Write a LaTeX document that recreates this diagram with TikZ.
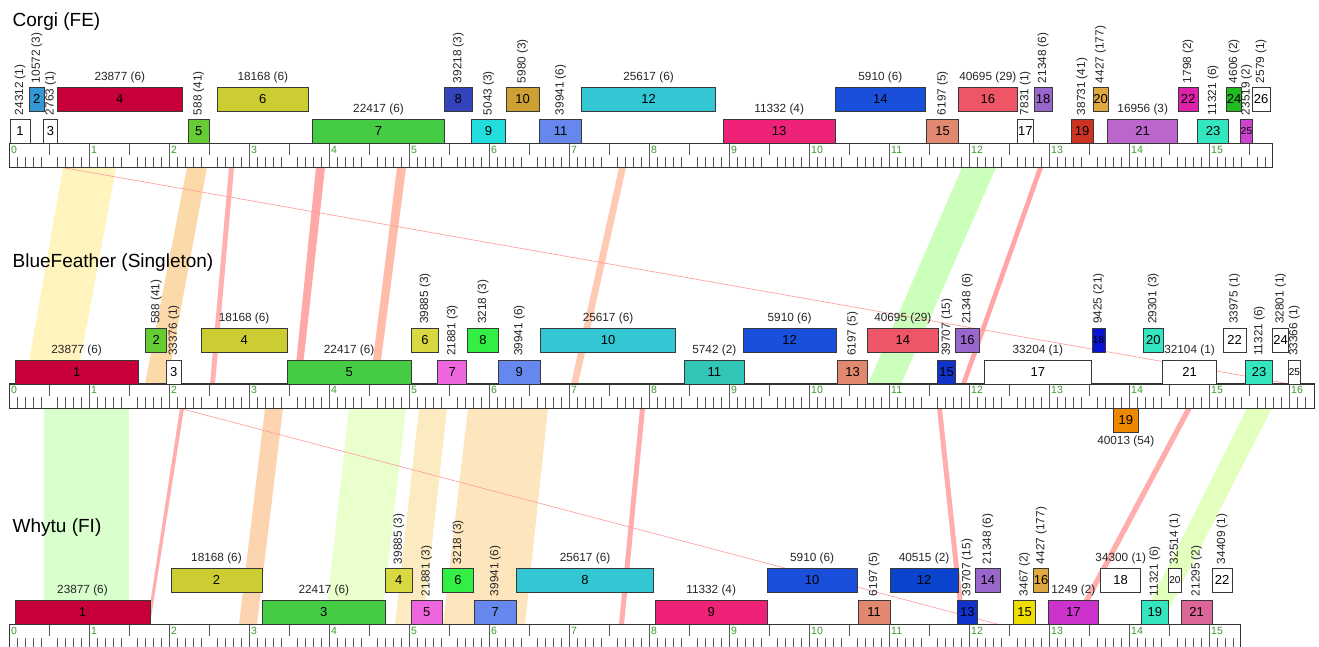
\documentclass[tikz,border=0pt]{standalone}
\usepackage{fontspec}
\setmainfont{Liberation Sans}
\definecolor{cCrim}{HTML}{C8003A}
\definecolor{cSky}{HTML}{3399D4}
\definecolor{cLime}{HTML}{66CC33}
\definecolor{cOlive}{HTML}{CCCC33}
\definecolor{cGreen}{HTML}{44CC44}
\definecolor{cNavy}{HTML}{3344BB}
\definecolor{cCyan}{HTML}{22DDDD}
\definecolor{cOchre}{HTML}{CCA033}
\definecolor{cPeri}{HTML}{6688EE}
\definecolor{cTeal}{HTML}{33C6D3}
\definecolor{cPink}{HTML}{EE2277}
\definecolor{cBlue}{HTML}{1A4FDB}
\definecolor{cSalmon}{HTML}{E08870}
\definecolor{cCoral}{HTML}{EE5566}
\definecolor{cPurple}{HTML}{9966CC}
\definecolor{cRed}{HTML}{CC3322}
\definecolor{cGold}{HTML}{E0A840}
\definecolor{cOrchid}{HTML}{BB66CC}
\definecolor{cMag}{HTML}{DD22AA}
\definecolor{cAqua}{HTML}{33E6BF}
\definecolor{cGreenB}{HTML}{22BB22}
\definecolor{cMagP}{HTML}{CC44CC}
\definecolor{cOlY}{HTML}{D8D840}
\definecolor{cPinkB}{HTML}{EE66DD}
\definecolor{cBGreen}{HTML}{33EE44}
\definecolor{cTealG}{HTML}{33C4B8}
\definecolor{cDBlue}{HTML}{1133CC}
\definecolor{cDeep}{HTML}{0A14D0}
\definecolor{cOrange}{HTML}{EE8800}
\definecolor{cBlueC}{HTML}{0A44CC}
\definecolor{cYellow}{HTML}{EEDD00}
\definecolor{cMagB}{HTML}{CC33CC}
\definecolor{cRose}{HTML}{DD6699}
\definecolor{tickgreen}{HTML}{3C9A2E}
\definecolor{bYel}{HTML}{FFF4BE}
\definecolor{bOra}{HTML}{FCD9A8}
\definecolor{bRedA}{HTML}{FFB2B2}
\definecolor{bRedB}{HTML}{FFA8A8}
\definecolor{bSal}{HTML}{FFBCA8}
\definecolor{bPea}{HTML}{FFCAB4}
\definecolor{bGrn}{HTML}{CCFFBB}
\definecolor{bRedC}{HTML}{FFA6A6}
\definecolor{bGrnA}{HTML}{D9FFCC}
\definecolor{bRedD}{HTML}{FFADAD}
\definecolor{bOraB}{HTML}{FCD4B0}
\definecolor{bYG}{HTML}{E9FFCC}
\definecolor{bYelB}{HTML}{FCEBC0}
\definecolor{bOraC}{HTML}{FDE6BE}
\definecolor{bGrnB}{HTML}{E2FFBE}
\definecolor{hair}{HTML}{FF9999}

\newcommand\gbox[6]{%
  \pgfmathsetmacro\gcx{(#2+#3)/2}%
  \pgfmathsetmacro\gw{#3-#2}%
  \node[gene, fill=#5, minimum width=\gw pt] (#1) at (\gcx,#4+12) {#6};}
\newcommand\hl[2]{\node[lab, anchor=base] (#1l) at ([yshift=7pt]#1.north) {#2};}
\newcommand\rl[2]{\node[lab, anchor=west, rotate=90] (#1l) at ([yshift=4pt]#1.north) {#2};}
\newcommand\band[7]{\fill[#1] (#2,#6) -- (#3,#6) -- (#4,#7) -- (#5,#7) -- cycle;}
\newcommand\ruler[5]{%
  \pgfmathsetmacro\rw{#2-9.7}%
  \node[rulerbox, minimum width=\rw pt, anchor=north west] (#1) at (9.7,#3) {};
  \foreach \i in {1,...,#4}{%
    \pgfmathtruncatemacro\rmod{mod(\i,10)}%
    \pgfmathsetmacro\tx{9.7+8*\i}%
    \ifnum\rmod=0 \draw[tick] (\tx,#3) -- (\tx,#3+24.3);%
    \else\ifnum\rmod=5 \draw[tick] (\tx,#3) -- (\tx,#3+12);%
    \else \draw[tick] (\tx,#3+24.3) -- (\tx,#3+13.3);\fi\fi}
  \foreach \k in {0,...,#5}{\node[tlab] at (9.7+80*\k+1.3,#3+2.3) {\k};}
  \draw[rulerline] (9.7,#3) rectangle (#2,#3+24.3);
}

\begin{document}
\begin{tikzpicture}[x=1pt,y=-1pt,
  gene/.style={draw=black!78, line width=0.8pt, inner sep=0pt, outer sep=0pt,
    minimum height=24pt, font=\fontsize{13}{13}\selectfont, text=black},
  lab/.style={inner sep=0pt, font=\fontsize{11.8}{12}\selectfont, text=black!85},
  ttl/.style={font=\fontsize{19}{20}\selectfont, anchor=base west, inner sep=0pt},
  rulerbox/.style={fill=white, minimum height=24.3pt, inner sep=0pt, outer sep=0pt},
  rulerline/.style={draw=black!80, line width=1.3pt},
  tick/.style={draw=black!65, line width=0.7pt},
  tlab/.style={anchor=north west, inner sep=0pt, text=tickgreen, font=\fontsize{10.5}{10.5}\selectfont},
  hairline/.style={draw=hair, line width=0.6pt}]
\useasboundingbox (0,0) rectangle (1319,647);
\fill[white] (0,0) rectangle (1319,647);

% ---- bands Corgi -> BlueFeather
\band{bYel}{63}{116}{76}{25}{167.6}{384}
\band{bOra}{187}{207}{167}{145}{167.6}{384}
\band{bRedA}{229}{234}{215}{210}{167.6}{384}
\band{bRedB}{316}{325}{301}{294}{167.6}{384}
\band{bSal}{397}{406}{378}{370}{167.6}{384}
\band{bPea}{619}{626}{578}{571}{167.6}{384}
\band{bGrn}{962}{996}{901}{868}{167.6}{384}
\band{bRedC}{1038}{1043}{966}{961}{167.6}{384}
\coordinate (d1a) at (63,167.6);
\coordinate (d1b) at (1290,384);
\draw[hairline] (d1a) -- (d1b);

% ---- bands BlueFeather -> Whytu
\band{bGrnA}{44}{129}{129}{44}{408.3}{624.3}
\band{bRedD}{180}{184}{150}{147}{408.3}{624.3}
\band{bOraB}{265}{283}{257}{239}{408.3}{624.3}
\band{bYG}{349}{406}{381}{325}{408.3}{624.3}
\band{bYelB}{419}{447}{423}{395}{408.3}{624.3}
\band{bOraC}{468}{548}{525}{443}{408.3}{624.3}
\band{bRedD}{640}{645}{624}{619}{408.3}{624.3}
\band{bRedD}{937}{942}{965}{960}{408.3}{624.3}
\band{bRedD}{1186}{1192}{1077}{1071}{408.3}{624.3}
\band{bGrnB}{1247}{1272}{1161}{1139}{408.3}{624.3}
\coordinate (d2a) at (180,408.3);
\coordinate (d2b) at (998,624.3);
\draw[hairline] (d2a) -- (d2b);

% ---- rulers
\ruler{r1}{1272.7}{143.3}{157}{15}
\ruler{r2}{1314.3}{384}{162}{16}
\ruler{r3}{1240.7}{624.3}{153}{15}

% ---- titles
\node[ttl] (t1) at (12.5,26.5) {Corgi (FE)};
\node[ttl] (t2) at (12.5,267.5) {BlueFeather (Singleton)};
\node[ttl] (t3) at (12.5,532.5) {Whytu (FI)};

% ---- Corgi
\def\U{87.3}\def\L{119.3}
\gbox{c1}{10}{30}{\L}{white}{1}\rl{c1}{24312 (1)}
\gbox{c2}{29.3}{44.3}{\U}{cSky}{2}\rl{c2}{10572 (3)}
\gbox{c3}{43.7}{57.3}{\L}{white}{3}\rl{c3}{2763 (1)}
\gbox{c4}{57.3}{182.3}{\U}{cCrim}{4}\hl{c4}{23877 (6)}
\gbox{c5}{188.3}{209}{\L}{cLime}{5}\rl{c5}{588 (41)}
\gbox{c6}{217.3}{308.3}{\U}{cOlive}{6}\hl{c6}{18168 (6)}
\gbox{c7}{312.7}{444.3}{\L}{cGreen}{7}\hl{c7}{22417 (6)}
\gbox{c8}{444.3}{472.3}{\U}{cNavy}{8}\rl{c8}{39218 (3)}
\gbox{c9}{471.3}{505.7}{\L}{cCyan}{9}\rl{c9}{5043 (3)}
\gbox{c10}{506}{539}{\U}{cOchre}{10}\rl{c10}{5980 (3)}
\gbox{c11}{539.3}{581.7}{\L}{cPeri}{11}\rl{c11}{39941 (6)}
\gbox{c12}{581.7}{715.3}{\U}{cTeal}{12}\hl{c12}{25617 (6)}
\gbox{c13}{723.3}{835}{\L}{cPink}{13}\hl{c13}{11332 (4)}
\gbox{c14}{835}{925.7}{\U}{cBlue}{14}\hl{c14}{5910 (6)}
\gbox{c15}{926.3}{958.7}{\L}{cSalmon}{15}\rl{c15}{6197 (5)}
\gbox{c16}{958.3}{1017.3}{\U}{cCoral}{16}\hl{c16}{40695 (29)}
\gbox{c17}{1017.3}{1033.3}{\L}{white}{17}\rl{c17}{7831 (1)}
\gbox{c18}{1034}{1052.3}{\U}{cPurple}{18}\rl{c18}{21348 (6)}
\gbox{c19}{1071}{1093.3}{\L}{cRed}{19}\rl{c19}{38731 (41)}
\gbox{c20}{1093}{1108.3}{\U}{cGold}{20}\rl{c20}{4427 (177)}
\gbox{c21}{1107.7}{1177.7}{\L}{cOrchid}{21}\hl{c21}{16956 (3)}
\gbox{c22}{1178.3}{1198}{\U}{cMag}{22}\rl{c22}{1798 (2)}
\gbox{c23}{1197.7}{1228.3}{\L}{cAqua}{23}\rl{c23}{11321 (6)}
\gbox{c24}{1227.3}{1240.7}{\U}{cGreenB}{24}\rl{c24}{4606 (2)}
\gbox{c25}{1240.7}{1252.3}{\L}{cMagP}{\fontsize{10}{10}\selectfont 25}\rl{c25}{23519 (2)}
\gbox{c26}{1252.3}{1270}{\U}{white}{26}\rl{c26}{2579 (1)}

% ---- BlueFeather
\def\U{328}\def\L{360}
\gbox{b1}{15}{138.3}{\L}{cCrim}{1}\hl{b1}{23877 (6)}
\gbox{b2}{145.7}{166.7}{\U}{cLime}{2}\rl{b2}{588 (41)}
\gbox{b3}{166.7}{181}{\L}{white}{3}\rl{b3}{33376 (1)}
\gbox{b4}{201}{287.3}{\U}{cOlive}{4}\hl{b4}{18168 (6)}
\gbox{b5}{287.3}{411}{\L}{cGreen}{5}\hl{b5}{22417 (6)}
\gbox{b6}{411.7}{438.3}{\U}{cOlY}{6}\rl{b6}{39885 (3)}
\gbox{b7}{437.7}{466.7}{\L}{cPinkB}{7}\rl{b7}{21881 (3)}
\gbox{b8}{467.7}{498.3}{\U}{cBGreen}{8}\rl{b8}{3218 (3)}
\gbox{b9}{498.3}{540.3}{\L}{cPeri}{9}\rl{b9}{39941 (6)}
\gbox{b10}{540.3}{675.7}{\U}{cTeal}{10}\hl{b10}{25617 (6)}
\gbox{b11}{684.3}{744.3}{\L}{cTealG}{11}\hl{b11}{5742 (2)}
\gbox{b12}{743}{836.3}{\U}{cBlue}{12}\hl{b12}{5910 (6)}
\gbox{b13}{837.7}{867.3}{\L}{cSalmon}{13}\rl{b13}{6197 (5)}
\gbox{b14}{867.3}{938.3}{\U}{cCoral}{14}\hl{b14}{40695 (29)}
\gbox{b15}{937.7}{955.7}{\L}{cDBlue}{15}\rl{b15}{39707 (15)}
\gbox{b16}{955.3}{979.3}{\U}{cPurple}{16}\rl{b16}{21348 (6)}
\gbox{b17}{984.7}{1091}{\L}{white}{17}\hl{b17}{33204 (1)}
\gbox{b18}{1092}{1105}{\U}{cDeep}{\fontsize{10}{10}\selectfont 18}\rl{b18}{9425 (21)}
\gbox{b19}{1113.3}{1138.3}{408.3}{cOrange}{19}
\node[lab, anchor=north] (b19l) at ([yshift=-3.5pt]b19.south) {40013 (54)};
\gbox{b20}{1143.3}{1163.3}{\U}{cAqua}{20}\rl{b20}{29301 (3)}
\gbox{b21}{1162.7}{1216.3}{\L}{white}{21}\hl{b21}{32104 (1)}
\gbox{b22}{1223.3}{1246}{\U}{white}{22}\rl{b22}{33975 (1)}
\gbox{b23}{1245.7}{1272.7}{\L}{cAqua}{23}\rl{b23}{11321 (6)}
\gbox{b24}{1272.7}{1288.3}{\U}{white}{24}\rl{b24}{32801 (1)}
\gbox{b25}{1288.3}{1300.3}{\L}{white}{\fontsize{10}{10}\selectfont 25}\rl{b25}{33366 (1)}

% ---- Whytu
\def\U{568.3}\def\L{600.3}
\gbox{w1}{15}{150}{\L}{cCrim}{1}\hl{w1}{23877 (6)}
\gbox{w2}{171}{262}{\U}{cOlive}{2}\hl{w2}{18168 (6)}
\gbox{w3}{262}{385.7}{\L}{cGreen}{3}\hl{w3}{22417 (6)}
\gbox{w4}{385.7}{412}{\U}{cOlY}{4}\rl{w4}{39885 (3)}
\gbox{w5}{411}{442.3}{\L}{cPinkB}{5}\rl{w5}{21881 (3)}
\gbox{w6}{442.3}{473.7}{\U}{cBGreen}{6}\rl{w6}{3218 (3)}
\gbox{w7}{474.3}{516.3}{\L}{cPeri}{7}\rl{w7}{39941 (6)}
\gbox{w8}{516.3}{653.7}{\U}{cTeal}{8}\hl{w8}{25617 (6)}
\gbox{w9}{655.3}{767}{\L}{cPink}{9}\hl{w9}{11332 (4)}
\gbox{w10}{767}{857.3}{\U}{cBlue}{10}\hl{w10}{5910 (6)}
\gbox{w11}{858}{890}{\L}{cSalmon}{11}\rl{w11}{6197 (5)}
\gbox{w12}{890}{958}{\U}{cBlueC}{12}\hl{w12}{40515 (2)}
\gbox{w13}{957.7}{977}{\L}{cDBlue}{13}\rl{w13}{39707 (15)}
\gbox{w14}{975.3}{1000.3}{\U}{cPurple}{14}\rl{w14}{21348 (6)}
\gbox{w15}{1013.7}{1035.3}{\L}{cYellow}{15}\rl{w15}{3467 (2)}
\gbox{w16}{1033.7}{1048.7}{\U}{cGold}{16}\rl{w16}{4427 (177)}
\gbox{w17}{1048.7}{1098}{\L}{cMagB}{17}\hl{w17}{1249 (2)}
\gbox{w18}{1100.7}{1140.7}{\U}{white}{18}\hl{w18}{34300 (1)}
\gbox{w19}{1141}{1168.7}{\L}{cAqua}{19}\rl{w19}{11321 (6)}
\gbox{w20}{1168.7}{1181}{\U}{white}{\fontsize{10}{10}\selectfont 20}\rl{w20}{32514 (1)}
\gbox{w21}{1181}{1212.3}{\L}{cRose}{21}\rl{w21}{21295 (2)}
\gbox{w22}{1212}{1232.3}{\U}{white}{22}\rl{w22}{34409 (1)}
\end{tikzpicture}
\end{document}
